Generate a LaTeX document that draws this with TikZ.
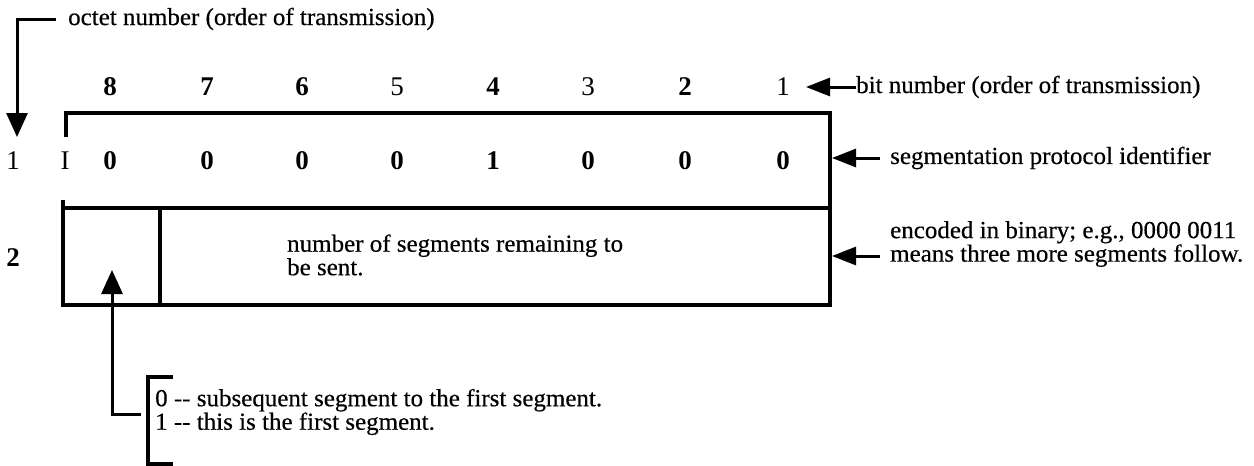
\documentclass[tikz,border=0pt]{standalone}
\usepackage{fontspec}
\setmainfont{Liberation Serif}[FakeStretch=1.02,FakeBold=0.4]
\newfontfamily\digitfont{Liberation Serif}
\usetikzlibrary{arrows.meta}
\begin{document}
\begin{tikzpicture}[x=1pt,y=-1pt,
  txt/.style={font=\fontsize{24.5}{23.5}\selectfont, inner sep=0pt, anchor=west},
  dig/.style={font=\digitfont\fontsize{27}{28}\selectfont\bfseries, inner sep=0pt},
  digr/.style={font=\digitfont\fontsize{27}{28}\selectfont, inner sep=0pt},
  frame/.style={line width=3.5pt},
  arr/.style={line width=3pt, -{Triangle[length=24pt,width=21pt]}},
  sarr/.style={line width=3pt, -{Triangle[length=24pt,width=18pt]}}]
\useasboundingbox (0,0) rectangle (1254,466);

% octet number pointer
\node[txt] (octet) at (68,19) {octet number (order of transmission)};
\coordinate (octstart) at (56,19);
\coordinate (octtip) at (17,137);
\draw[arr] (octstart) -| (octtip);

% bit numbers
\node[dig]  (b8) at (110,87) {8};
\node[dig]  (b7) at (207,87) {7};
\node[dig]  (b6) at (302,87) {6};
\node[digr] (b5) at (397,87) {5};
\node[dig]  (b4) at (493,87) {4};
\node[digr] (b3) at (588,87) {3};
\node[dig]  (b2) at (685,87) {2};
\node[digr] (b1) at (783,87) {1};
\node[txt] (bitlbl) at (856,87) {bit number (order of transmission)};
\coordinate (bittip) at (806,87);
\draw[sarr] (bitlbl.west) -- (bittip);

% frame
\draw[frame] (66,137) -- (66,113) -- (830,113) -- (830,208);
\draw[frame] (63,208) -- (830,208);
\draw[frame] (63,200) -- (63,305) -- (830,305) -- (830,208);
\draw[frame] (160,208) -- (160,305);

% octet 1
\node[digr] (o1) at (13,161) {1};
\node[digr] (oI) at (65,161) {I};
\node[dig] (v8) at (110,161) {0};
\node[dig] (v7) at (207,161) {0};
\node[dig] (v6) at (302,161) {0};
\node[dig] (v5) at (397,161) {0};
\node[dig] (v4) at (493,161) {1};
\node[dig] (v3) at (588,161) {0};
\node[dig] (v2) at (685,161) {0};
\node[dig] (v1) at (783,161) {0};
\node[txt] (seglbl) at (890,158) {segmentation protocol identifier};
\coordinate (segstart) at (880,158);
\coordinate (segtip) at (832,158);
\draw[sarr] (segstart) -- (segtip);

% octet 2
\node[dig] (o2) at (13,258) {2};
\node[txt, align=left] (nseg) at (287,255) {number of segments remaining to\\be sent.};
\node[txt, align=left] (enclbl) at (890,244) {encoded in binary; e.g., 0000 0011\\means three more segments follow.};
\coordinate (encstart) at (880,256);
\coordinate (enctip) at (832,256);
\draw[sarr] (encstart) -- (enctip);

% first-segment flag
\node[txt, align=left] (flag) at (155,412) {0 -{}- subsequent segment to the first segment.\\1 -{}- this is the first segment.};
\draw[frame] (173,377) -- (148,377) -- (148,464) -- (173,464);
\coordinate (flagjoin) at (141,414);
\coordinate (flagtip) at (112,270);
\draw[arr] (flagjoin) -| (flagtip);
\end{tikzpicture}
\end{document}
